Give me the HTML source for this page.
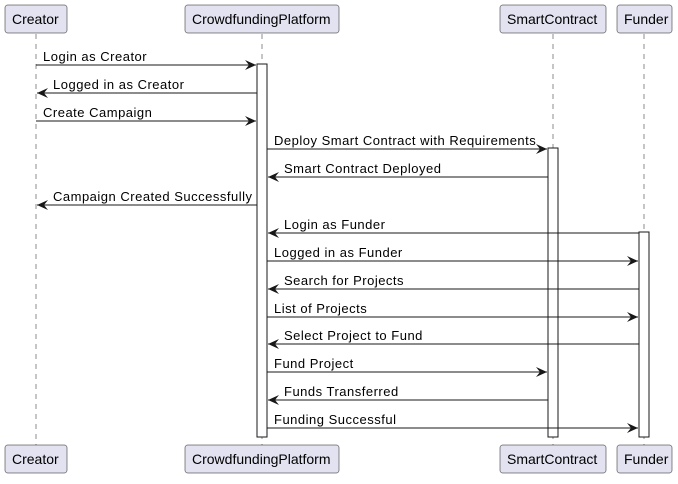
<!DOCTYPE html>
<html><head><meta charset="utf-8"><style>
html,body{margin:0;padding:0;background:#fff;}
svg text{font-family:"Liberation Sans",Arial,sans-serif;font-size:13px;fill:#000;}
.lbl{letter-spacing:0.5px;}
</style></head><body>
<svg width="678" height="479" viewBox="0 0 678 479" xmlns="http://www.w3.org/2000/svg">
<g stroke="#181818" stroke-width="0.5" stroke-dasharray="5,5">
<line x1="36" y1="34" x2="36" y2="445"/>
<line x1="262" y1="34" x2="262" y2="445"/>
<line x1="553" y1="34" x2="553" y2="445"/>
<line x1="644" y1="34" x2="644" y2="445"/>
</g>
<g fill="#fff" stroke="#181818" stroke-width="1">
<rect x="257" y="64" width="10" height="373"/>
<rect x="548" y="148" width="10" height="289"/>
<rect x="639" y="232" width="10" height="205"/>
</g>
<g fill="#E2E2F0" stroke="#181818" stroke-width="0.5">
<rect x="5" y="5" width="62" height="28" rx="2.5"/>
<rect x="185" y="5" width="154" height="28" rx="2.5"/>
<rect x="500" y="5" width="106" height="28" rx="2.5"/>
<rect x="617" y="5" width="55" height="28" rx="2.5"/>
<rect x="5" y="445" width="62" height="28" rx="2.5"/>
<rect x="185" y="445" width="154" height="28" rx="2.5"/>
<rect x="500" y="445" width="106" height="28" rx="2.5"/>
<rect x="617" y="445" width="55" height="28" rx="2.5"/>
</g>
<g>
<text x="12" y="24" style="font-size:14px">Creator</text>
<text x="192" y="24" style="font-size:14px">CrowdfundingPlatform</text>
<text x="507" y="24" style="font-size:14px">SmartContract</text>
<text x="624" y="24" style="font-size:14px">Funder</text>
<text x="12" y="464" style="font-size:14px">Creator</text>
<text x="192" y="464" style="font-size:14px">CrowdfundingPlatform</text>
<text x="507" y="464" style="font-size:14px">SmartContract</text>
<text x="624" y="464" style="font-size:14px">Funder</text>
</g>
<defs>
<marker id="a" markerWidth="12" markerHeight="10" refX="11" refY="5" orient="auto" markerUnits="userSpaceOnUse">
<path d="M0,0 L11,5 L0,10 L4,5 Z" fill="#181818"/>
</marker>
</defs>
<g stroke="#181818" stroke-width="1" marker-end="url(#a)">
<line x1="36" y1="65" x2="256" y2="65"/>
<line x1="257" y1="93" x2="37" y2="93"/>
<line x1="36" y1="121" x2="256" y2="121"/>
<line x1="267" y1="149" x2="547" y2="149"/>
<line x1="548" y1="177" x2="268" y2="177"/>
<line x1="257" y1="205" x2="37" y2="205"/>
<line x1="639" y1="233" x2="268" y2="233"/>
<line x1="267" y1="261" x2="638" y2="261"/>
<line x1="639" y1="289" x2="268" y2="289"/>
<line x1="267" y1="317" x2="638" y2="317"/>
<line x1="639" y1="344" x2="268" y2="344"/>
<line x1="267" y1="372" x2="547" y2="372"/>
<line x1="548" y1="400" x2="268" y2="400"/>
<line x1="267" y1="428" x2="638" y2="428"/>
</g>
<g>
<text class="lbl" x="43" y="61">Login as Creator</text>
<text class="lbl" x="53" y="89">Logged in as Creator</text>
<text class="lbl" x="43" y="117">Create Campaign</text>
<text class="lbl" x="274" y="145">Deploy Smart Contract with Requirements</text>
<text class="lbl" x="284" y="173">Smart Contract Deployed</text>
<text class="lbl" x="53" y="201">Campaign Created Successfully</text>
<text class="lbl" x="284" y="229">Login as Funder</text>
<text class="lbl" x="274" y="257">Logged in as Funder</text>
<text class="lbl" x="284" y="285">Search for Projects</text>
<text class="lbl" x="274" y="313">List of Projects</text>
<text class="lbl" x="284" y="340">Select Project to Fund</text>
<text class="lbl" x="274" y="368">Fund Project</text>
<text class="lbl" x="284" y="396">Funds Transferred</text>
<text class="lbl" x="274" y="424">Funding Successful</text>
</g>
</svg>
</body></html>
